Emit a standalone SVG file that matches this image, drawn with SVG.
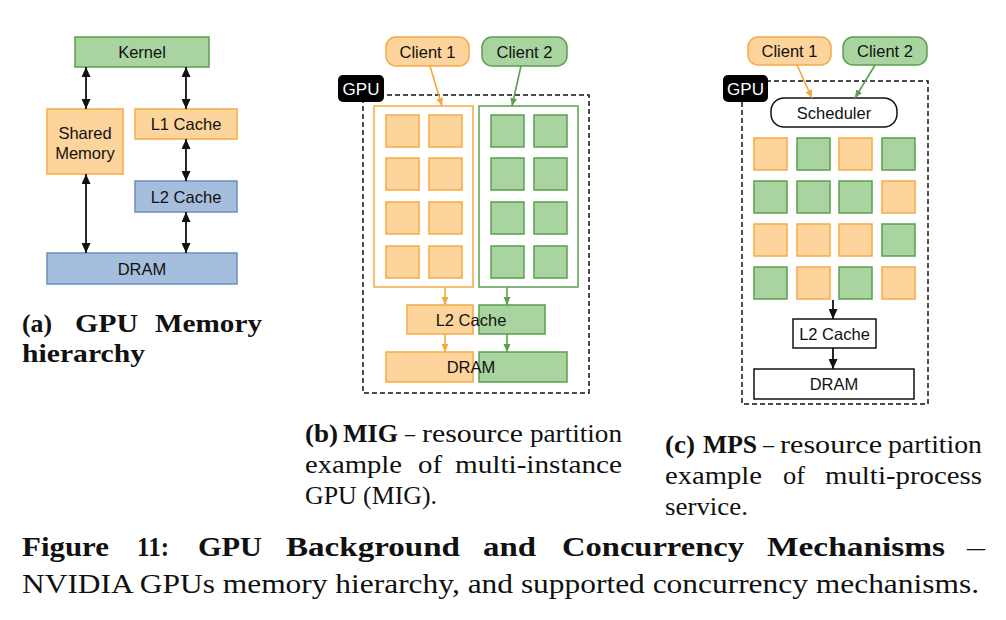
<svg xmlns="http://www.w3.org/2000/svg" width="1006" height="620" viewBox="0 0 1006 620">
<style>
.lbl{font-family:"Liberation Sans",Arial,sans-serif;font-size:16.5px;fill:#111;text-anchor:middle;dominant-baseline:central}
.gpu{font-family:"Liberation Sans",Arial,sans-serif;font-size:17px;fill:#fff;text-anchor:middle;dominant-baseline:central}
.or{fill:#FDD49C;stroke:#F5AB45;stroke-width:1.5}
.gr{fill:#A9D4A0;stroke:#5B9F4F;stroke-width:1.5}
.bl{fill:#A6BEDE;stroke:#6C8EBF;stroke-width:1.5}
.orp{fill:none;stroke:#F5AB45;stroke-width:1.5}
.grp{fill:none;stroke:#5B9F4F;stroke-width:1.5}
.wh{fill:#fff;stroke:#111;stroke-width:1.5}
.dash{fill:none;stroke:#111;stroke-width:1.5;stroke-dasharray:5,3}
.blk{fill:#000}
.cb{stroke:#111;stroke-width:1.8;fill:none}
.co{stroke:#F5A93A;stroke-width:1.6;fill:none}
.cg{stroke:#5B9F4F;stroke-width:1.6;fill:none}
.cap{font-family:"Liberation Serif","Times New Roman",serif;font-size:25px;fill:#111}
.capb{font-family:"Liberation Serif","Times New Roman",serif;font-size:25px;font-weight:bold;fill:#111}
.fig{font-family:"Liberation Serif","Times New Roman",serif;font-size:27px;fill:#111}
.figb{font-family:"Liberation Serif","Times New Roman",serif;font-size:27px;font-weight:bold;fill:#111}
</style>
<defs>
<marker id="ab" markerUnits="userSpaceOnUse" markerWidth="10" markerHeight="9" refX="10" refY="4.5" orient="auto-start-reverse"><path d="M0,0 L10,4.5 L0,9 z" fill="#111"/></marker>
<marker id="ao" markerUnits="userSpaceOnUse" markerWidth="9" markerHeight="9" refX="8" refY="3.5" orient="auto"><path d="M0,0 L8,3.5 L0,7 z" fill="#F5A93A"/></marker>
<marker id="ag" markerUnits="userSpaceOnUse" markerWidth="9" markerHeight="9" refX="8" refY="3.5" orient="auto"><path d="M0,0 L8,3.5 L0,7 z" fill="#5B9F4F"/></marker>
</defs>
<rect width="1006" height="620" fill="#fff"/>

<!-- Panel (a) -->
<g id="a-kernel"><rect class="gr" x="75" y="37" width="134" height="30"/><text class="lbl" x="142" y="52">Kernel</text></g>
<g id="a-shared"><rect class="or" x="47" y="109" width="76" height="65"/><text class="lbl" x="85" y="133">Shared</text><text class="lbl" x="85" y="153">Memory</text></g>
<g id="a-l1"><rect class="or" x="135" y="109" width="102" height="30"/><text class="lbl" x="186" y="124">L1 Cache</text></g>
<g id="a-l2"><rect class="bl" x="135" y="181" width="102" height="31"/><text class="lbl" x="186" y="196.5">L2 Cache</text></g>
<g id="a-dram"><rect class="bl" x="47" y="253" width="190" height="31"/><text class="lbl" x="142" y="268.5">DRAM</text></g>
<g id="a-connectors">
<line class="cb" x1="86" y1="67" x2="86" y2="109" marker-start="url(#ab)" marker-end="url(#ab)"/>
<line class="cb" x1="86" y1="174" x2="86" y2="253" marker-start="url(#ab)" marker-end="url(#ab)"/>
<line class="cb" x1="186" y1="67" x2="186" y2="109" marker-start="url(#ab)" marker-end="url(#ab)"/>
<line class="cb" x1="186" y1="139" x2="186" y2="181" marker-start="url(#ab)" marker-end="url(#ab)"/>
<line class="cb" x1="186" y1="212" x2="186" y2="253" marker-start="url(#ab)" marker-end="url(#ab)"/>
</g>

<!-- Panel (b) -->
<g id="b-gpu"><rect class="dash" x="363" y="95" width="226" height="298"/><rect class="blk" x="338" y="75" width="46" height="27" rx="5"/><text class="gpu" x="361" y="89">GPU</text></g>
<g id="b-client1"><rect class="or" x="386" y="37" width="83" height="29" rx="10"/><text class="lbl" x="427.5" y="51.5">Client 1</text></g>
<g id="b-client2"><rect class="gr" x="482" y="37" width="85" height="29" rx="10"/><text class="lbl" x="524.5" y="51.5">Client 2</text></g>
<g id="b-part1">
<rect class="orp" x="374" y="106" width="99" height="181"/>
<rect class="or" x="386" y="115" width="33" height="32"/><rect class="or" x="429" y="115" width="33" height="32"/>
<rect class="or" x="386" y="158" width="33" height="32"/><rect class="or" x="429" y="158" width="33" height="32"/>
<rect class="or" x="386" y="202" width="33" height="32"/><rect class="or" x="429" y="202" width="33" height="32"/>
<rect class="or" x="386" y="246" width="33" height="32"/><rect class="or" x="429" y="246" width="33" height="32"/>
</g>
<g id="b-part2">
<rect class="grp" x="479" y="106" width="99" height="181"/>
<rect class="gr" x="491" y="115" width="33" height="32"/><rect class="gr" x="534" y="115" width="33" height="32"/>
<rect class="gr" x="491" y="158" width="33" height="32"/><rect class="gr" x="534" y="158" width="33" height="32"/>
<rect class="gr" x="491" y="202" width="33" height="32"/><rect class="gr" x="534" y="202" width="33" height="32"/>
<rect class="gr" x="491" y="246" width="33" height="32"/><rect class="gr" x="534" y="246" width="33" height="32"/>
</g>
<g id="b-l2"><rect class="or" x="407" y="305" width="66" height="29"/><rect class="gr" x="479" y="305" width="66" height="29"/><text class="lbl" x="471" y="320">L2 Cache</text></g>
<g id="b-dram"><rect class="or" x="386" y="352" width="87" height="30"/><rect class="gr" x="479" y="352" width="88" height="30"/><text class="lbl" x="471" y="367">DRAM</text></g>
<g id="b-connectors">
<line class="co" x1="430" y1="66" x2="442" y2="106" marker-end="url(#ao)"/>
<line class="cg" x1="521" y1="66" x2="512" y2="106" marker-end="url(#ag)"/>
<line class="co" x1="445" y1="287" x2="445" y2="305" marker-end="url(#ao)"/>
<line class="co" x1="445" y1="334" x2="445" y2="352" marker-end="url(#ao)"/>
<line class="cg" x1="507" y1="287" x2="507" y2="305" marker-end="url(#ag)"/>
<line class="cg" x1="507" y1="334" x2="507" y2="352" marker-end="url(#ag)"/>
</g>

<!-- Panel (c) -->
<g id="c-gpu"><rect class="dash" x="742" y="81" width="186" height="323"/><rect class="blk" x="723" y="75" width="45" height="27" rx="5"/><text class="gpu" x="745.5" y="89">GPU</text></g>
<g id="c-client1"><rect class="or" x="748" y="37" width="83" height="28" rx="10"/><text class="lbl" x="789.5" y="51">Client 1</text></g>
<g id="c-client2"><rect class="gr" x="843" y="37" width="84" height="28" rx="10"/><text class="lbl" x="885" y="51">Client 2</text></g>
<g id="c-scheduler"><rect class="wh" x="771" y="98" width="126" height="29" rx="13"/><text class="lbl" x="834" y="113">Scheduler</text></g>
<g id="c-grid">
<rect class="or" x="754" y="138" width="33" height="32"/><rect class="gr" x="797" y="138" width="33" height="32"/><rect class="or" x="839" y="138" width="33" height="32"/><rect class="gr" x="882" y="138" width="33" height="32"/>
<rect class="gr" x="754" y="181" width="33" height="32"/><rect class="gr" x="797" y="181" width="33" height="32"/><rect class="gr" x="839" y="181" width="33" height="32"/><rect class="or" x="882" y="181" width="33" height="32"/>
<rect class="or" x="754" y="224" width="33" height="32"/><rect class="or" x="797" y="224" width="33" height="32"/><rect class="or" x="839" y="224" width="33" height="32"/><rect class="gr" x="882" y="224" width="33" height="32"/>
<rect class="gr" x="754" y="267" width="33" height="32"/><rect class="or" x="797" y="267" width="33" height="32"/><rect class="gr" x="839" y="267" width="33" height="32"/><rect class="or" x="882" y="267" width="33" height="32"/>
</g>
<g id="c-l2"><rect class="wh" x="793" y="319" width="83" height="29"/><text class="lbl" x="834.5" y="334">L2 Cache</text></g>
<g id="c-dram"><rect class="wh" x="754" y="369" width="160" height="30"/><text class="lbl" x="834" y="384">DRAM</text></g>
<g id="c-connectors">
<line class="co" x1="797" y1="65" x2="812" y2="98" marker-end="url(#ao)"/>
<line class="cg" x1="875" y1="65" x2="855" y2="98" marker-end="url(#ag)"/>
<line class="cb" x1="833" y1="300" x2="833" y2="319" marker-end="url(#ab)"/>
<line class="cb" x1="833" y1="348" x2="833" y2="369" marker-end="url(#ab)"/>
</g>

<!-- Captions -->
<g id="caption-a">
<text class="capb" x="22" y="332" textLength="30" lengthAdjust="spacingAndGlyphs">(a)</text>
<text class="capb" x="75" y="332" textLength="63" lengthAdjust="spacingAndGlyphs">GPU</text>
<text class="capb" x="155" y="332" textLength="107" lengthAdjust="spacingAndGlyphs">Memory</text>
<text class="capb" x="22" y="362" textLength="123" lengthAdjust="spacingAndGlyphs">hierarchy</text>
</g>
<g id="caption-b">
<text class="capb" x="305" y="442" textLength="33" lengthAdjust="spacingAndGlyphs">(b)</text>
<text class="capb" x="343" y="442" textLength="55" lengthAdjust="spacingAndGlyphs">MIG</text>
<text class="cap" x="405" y="442" textLength="10" lengthAdjust="spacingAndGlyphs">–</text>
<text class="cap" x="422" y="442" textLength="101" lengthAdjust="spacingAndGlyphs">resource</text>
<text class="cap" x="530" y="442" textLength="92" lengthAdjust="spacingAndGlyphs">partition</text>
<text class="cap" x="305" y="473" textLength="97" lengthAdjust="spacingAndGlyphs">example</text>
<text class="cap" x="418" y="473" textLength="24" lengthAdjust="spacingAndGlyphs">of</text>
<text class="cap" x="455" y="473" textLength="167" lengthAdjust="spacingAndGlyphs">multi-instance</text>
<text class="cap" x="305" y="504" textLength="132" lengthAdjust="spacingAndGlyphs">GPU (MIG).</text>
</g>
<g id="caption-c">
<text class="capb" x="665" y="453" textLength="30" lengthAdjust="spacingAndGlyphs">(c)</text>
<text class="capb" x="703" y="453" textLength="54" lengthAdjust="spacingAndGlyphs">MPS</text>
<text class="cap" x="763" y="453" textLength="11" lengthAdjust="spacingAndGlyphs">–</text>
<text class="cap" x="780" y="453" textLength="102" lengthAdjust="spacingAndGlyphs">resource</text>
<text class="cap" x="888" y="453" textLength="94" lengthAdjust="spacingAndGlyphs">partition</text>
<text class="cap" x="665" y="484" textLength="97" lengthAdjust="spacingAndGlyphs">example</text>
<text class="cap" x="783" y="484" textLength="22" lengthAdjust="spacingAndGlyphs">of</text>
<text class="cap" x="825" y="484" textLength="157" lengthAdjust="spacingAndGlyphs">multi-process</text>
<text class="cap" x="665" y="515" textLength="83" lengthAdjust="spacingAndGlyphs">service.</text>
</g>
<g id="figure-caption">
<text class="figb" x="22" y="556" textLength="87" lengthAdjust="spacingAndGlyphs">Figure</text>
<text class="figb" x="137" y="556" textLength="32" lengthAdjust="spacingAndGlyphs">11:</text>
<text class="figb" x="198" y="556" textLength="64" lengthAdjust="spacingAndGlyphs">GPU</text>
<text class="figb" x="286" y="556" textLength="174" lengthAdjust="spacingAndGlyphs">Background</text>
<text class="figb" x="483" y="556" textLength="53" lengthAdjust="spacingAndGlyphs">and</text>
<text class="figb" x="562" y="556" textLength="182" lengthAdjust="spacingAndGlyphs">Concurrency</text>
<text class="figb" x="767" y="556" textLength="178" lengthAdjust="spacingAndGlyphs">Mechanisms</text>
<text class="fig" x="967" y="556" textLength="18" lengthAdjust="spacingAndGlyphs">–</text>
<text class="fig" x="22" y="593" textLength="957" lengthAdjust="spacingAndGlyphs">NVIDIA GPUs memory hierarchy, and supported concurrency mechanisms.</text>
</g>
</svg>
